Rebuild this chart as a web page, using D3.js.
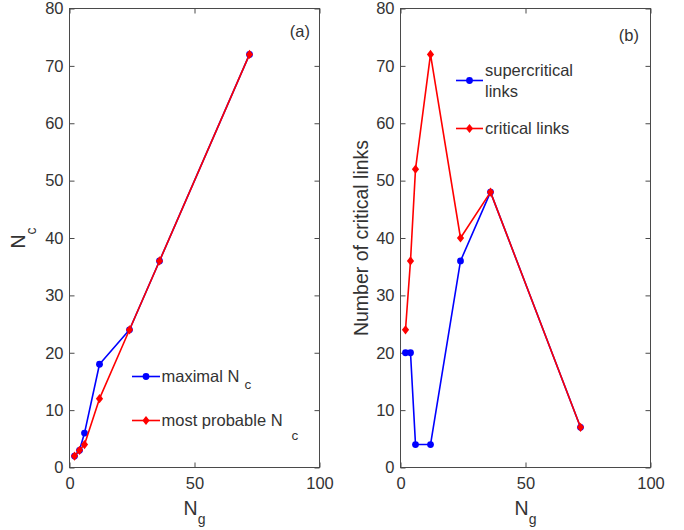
<!DOCTYPE html>
<html>
<head>
<meta charset="utf-8">
<script src="https://cdn.jsdelivr.net/npm/d3@7"></script>
<style>
  html, body { margin: 0; padding: 0; background: #fff; }
  svg { display: block; font-family: "Liberation Sans", Arial, Helvetica, sans-serif; }
</style>
</head>
<body>
<svg id="chart" width="684" height="530"></svg>
<script>
// Number of groups N_g on the horizontal axis
const ng = [2, 4, 6, 12, 24, 36, 72];
// Panel (a): cluster counts
const maximalNc = [2, 3, 6, 18, 24, 36, 72];
const probableNc = [2, 3, 4, 12, 24, 36, 72];
// Panel (b): link counts
const supercriticalLinks = [20, 20, 4, 4, 36, 48, 7];
const criticalLinks = [24, 36, 52, 72, 40, 48, 7];
// Axis ticks
const xTicks = [0, 50, 100];
const yTicks = [0, 10, 20, 30, 40, 50, 60, 70, 80];

const BLUE = "#0000ff", RED = "#ff0000", INK = "#333333", AXIS = "#4a4a4a";
const svg = d3.select("#chart");
svg.append("rect").attr("width", 684).attr("height", 530).attr("fill", "#fff");

const plotTop = 8.5, plotBottom = 467.5;

function diamondPath(cx, cy) {
  const w = 3.6, h = 4.6;
  return `M${cx},${cy - h}L${cx + w},${cy}L${cx},${cy + h}L${cx - w},${cy}Z`;
}

function drawMarker(g, cx, cy, color, marker) {
  if (marker === "circle") {
    g.append("circle").attr("cx", cx).attr("cy", cy).attr("r", 3.4).attr("fill", color);
  } else {
    g.append("path").attr("d", diamondPath(cx, cy)).attr("fill", color);
  }
}

function drawSeries(g, x, y, xs, ys, color, marker) {
  const line = d3.line().x((d, i) => x(xs[i])).y(d => y(d));
  g.append("path").attr("d", line(ys)).attr("fill", "none")
    .attr("stroke", color).attr("stroke-width", 1.6).attr("stroke-linejoin", "round");
  ys.forEach((v, i) => drawMarker(g, x(xs[i]), y(v), color, marker));
}

function legendEntry(g, x0, x1, y, color, marker) {
  g.append("line").attr("x1", x0).attr("x2", x1).attr("y1", y).attr("y2", y)
    .attr("stroke", color).attr("stroke-width", 1.6);
  drawMarker(g, (x0 + x1) / 2, y, color, marker);
}

function panel(left, right, ylabel, tagText, tagX, tagY) {
  const x = d3.scaleLinear().domain([0, 100]).range([left, right]);
  const y = d3.scaleLinear().domain([0, 80]).range([plotBottom, plotTop]);
  const g = svg.append("g");

  const styleAxis = (sel, showText) => {
    sel.select(".domain").remove();
    sel.selectAll(".tick line").attr("stroke", AXIS).attr("stroke-width", 1);
    sel.selectAll(".tick text").attr("fill", INK).style("font-size", "16.5px")
      .style("font-family", "Liberation Sans, Arial, sans-serif");
    if (!showText) sel.selectAll(".tick text").remove();
  };

  g.append("g").attr("transform", `translate(0,${plotBottom})`)
    .call(d3.axisBottom(x).tickValues(xTicks).tickSize(-5).tickPadding(10).tickFormat(d3.format("d")))
    .call(s => styleAxis(s, true));
  g.append("g").attr("transform", `translate(0,${plotTop})`)
    .call(d3.axisTop(x).tickValues(xTicks).tickSize(-5))
    .call(s => styleAxis(s, false));
  g.append("g").attr("transform", `translate(${left},0)`)
    .call(d3.axisLeft(y).tickValues(yTicks).tickSize(-5).tickPadding(6).tickFormat(d3.format("d")))
    .call(s => styleAxis(s, true));
  g.append("g").attr("transform", `translate(${right},0)`)
    .call(d3.axisRight(y).tickValues(yTicks).tickSize(-5))
    .call(s => styleAxis(s, false));

  g.append("rect").attr("x", left).attr("y", plotTop)
    .attr("width", right - left).attr("height", plotBottom - plotTop)
    .attr("fill", "none").attr("stroke", AXIS).attr("stroke-width", 1);

  // x label N_g
  const xl = g.append("text").attr("x", (left + right) / 2).attr("y", 515)
    .attr("text-anchor", "middle").attr("fill", INK).style("font-size", "19.5px");
  xl.append("tspan").text("N");
  xl.append("tspan").attr("dy", 9).style("font-size", "14px").text("g");

  // y label
  const yl = g.append("text")
    .attr("transform", `translate(${ylabel.x},${(plotTop + plotBottom) / 2}) rotate(-90)`)
    .attr("text-anchor", "middle").attr("fill", INK).style("font-size", "19.5px");
  ylabel.parts(yl);

  g.append("text").attr("x", tagX).attr("y", tagY).attr("text-anchor", "end")
    .attr("fill", INK).style("font-size", "16.5px").text(tagText);

  return { g, x, y };
}

// Panel (a)
const a = panel(69.5, 319.5, {
  x: 25,
  parts: t => {
    t.append("tspan").text("N");
    t.append("tspan").attr("dy", 11).style("font-size", "14px").text("c");
  }
}, "(a)", 310, 37);
drawSeries(a.g, a.x, a.y, ng, maximalNc, BLUE, "circle");
drawSeries(a.g, a.x, a.y, ng, probableNc, RED, "diamond");

legendEntry(a.g, 132, 160, 376.5, BLUE, "circle");
const la1 = a.g.append("text").attr("x", 161.5).attr("y", 381.5).attr("fill", INK).style("font-size", "16.5px");
la1.append("tspan").text("maximal N");
la1.append("tspan").attr("dx", 5).attr("dy", 7).style("font-size", "13.5px").text("c");
legendEntry(a.g, 132, 160, 420.5, RED, "diamond");
const la2 = a.g.append("text").attr("x", 161.5).attr("y", 425.5).attr("fill", INK).style("font-size", "16.5px");
la2.append("tspan").text("most probable N");
la2.append("tspan").attr("dx", 9).attr("dy", 14).style("font-size", "13.5px").text("c");

// Panel (b)
const b = panel(400.5, 650.5, {
  x: 368,
  parts: t => t.text("Number of critical links")
}, "(b)", 639, 41);
drawSeries(b.g, b.x, b.y, ng, supercriticalLinks, BLUE, "circle");
drawSeries(b.g, b.x, b.y, ng, criticalLinks, RED, "diamond");

legendEntry(b.g, 456, 483, 80.5, BLUE, "circle");
b.g.append("text").attr("x", 485).attr("y", 76).attr("fill", INK).style("font-size", "16.5px").text("supercritical");
b.g.append("text").attr("x", 485).attr("y", 96.5).attr("fill", INK).style("font-size", "16.5px").text("links");
legendEntry(b.g, 456, 483, 128.5, RED, "diamond");
b.g.append("text").attr("x", 485).attr("y", 134).attr("fill", INK).style("font-size", "16.5px").text("critical links");
</script>
</body>
</html>
